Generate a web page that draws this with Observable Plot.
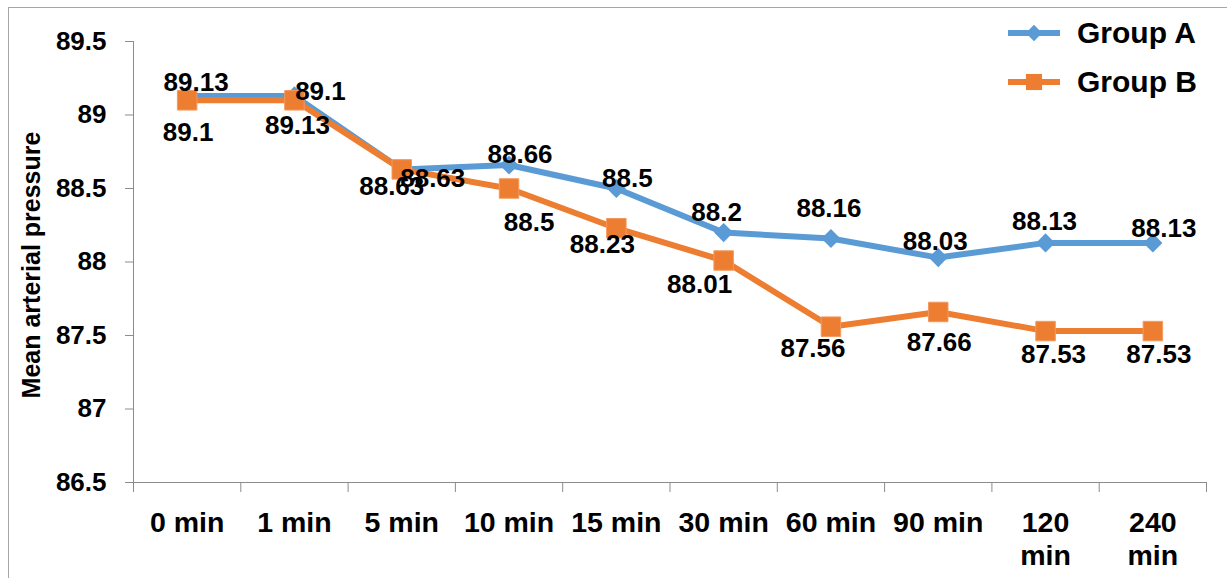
<!DOCTYPE html>
<html>
<head>
<meta charset="utf-8">
<script src="https://cdn.jsdelivr.net/npm/d3@7"></script>
<script src="https://cdn.jsdelivr.net/npm/@observablehq/plot@0.6"></script>
<style>
html, body { margin: 0; padding: 0; background: #fff; overflow: hidden; }
#wrap { position: relative; width: 1227px; height: 578px; font-family: "Liberation Sans", Arial, sans-serif; overflow: hidden; }
#frame { position: absolute; left: 8px; top: 7px; width: 1300px; height: 700px; border: 1px solid #a6a6a6; box-sizing: border-box; }
#chart { position: absolute; left: 0; top: 0; }
#legend { position: absolute; left: 1008px; top: 8px; font-weight: bold; font-size: 30px; color: #000; }
.item { display: flex; align-items: center; height: 49px; }
.item svg { margin-right: 17px; }
</style>
</head>
<body>
<div id="wrap">
  <div id="frame"></div>
  <div id="chart"></div>
  <div id="legend"></div>
</div>
<script>
// ---- data ----
const categories = ["0 min", "1 min", "5 min", "10 min", "15 min", "30 min", "60 min", "90 min", "120 min", "240 min"];
const tickLabels = ["0 min", "1 min", "5 min", "10 min", "15 min", "30 min", "60 min", "90 min", "120\nmin", "240\nmin"];
const groupA = [89.13, 89.13, 88.63, 88.66, 88.5, 88.2, 88.16, 88.03, 88.13, 88.13];
const groupB = [89.1, 89.1, 88.63, 88.5, 88.23, 88.01, 87.56, 87.66, 87.53, 87.53];
const labelsA = ["89.13", "89.1", "88.63", "88.66", "88.5", "88.2", "88.16", "88.03", "88.13", "88.13"];
const labelsB = ["89.1", "89.13", "88.63", "88.5", "88.23", "88.01", "87.56", "87.66", "87.53", "87.53"];
const yTicks = [86.5, 87, 87.5, 88, 88.5, 89, 89.5];
const seriesNames = ["Group A", "Group B"];
const yTitle = "Mean arterial pressure";

// ---- layout / style (label nudges, px) ----
const nudgeA = [[9,-13],[26,-4],[-10,17],[11,-10],[11,-10],[-7,-20],[-2,-30],[-3,-16],[-1,-21],[11,-14]];
const nudgeB = [[1,32],[3,25],[31,9],[20,34],[-14,16],[-24,24],[-18,22],[1,31],[8,24],[6,24]];
const blue = "#5B9BD5", orange = "#ED7D31", gray = "#8c8c8c";
const font = "'Liberation Sans', Arial, sans-serif";

const rows = categories.map((c, i) => ({i, c, a: groupA[i], b: groupB[i]}));
const bounds = d3.range(categories.length + 1).map(k => k - 0.5);

const labelMarks = [];
rows.forEach((r, i) => {
  labelMarks.push(Plot.text([r], {x: "i", y: "a", text: () => labelsA[i], dx: nudgeA[i][0], dy: nudgeA[i][1],
    fontSize: 26, fontWeight: "bold", fill: "#000"}));
  labelMarks.push(Plot.text([r], {x: "i", y: "b", text: () => labelsB[i], dx: nudgeB[i][0], dy: nudgeB[i][1],
    fontSize: 26, fontWeight: "bold", fill: "#000"}));
});

const chart = Plot.plot({
  width: 1227,
  height: 578,
  marginLeft: 133,
  marginRight: 21,
  marginTop: 41,
  marginBottom: 96,
  style: {fontFamily: font, background: "transparent", color: "#000"},
  x: {type: "linear", domain: [bounds[0], bounds[bounds.length - 1]]},
  y: {domain: [d3.min(yTicks), d3.max(yTicks)]},
  marks: [
    Plot.ruleY([d3.min(yTicks)], {stroke: gray, strokeWidth: 1}),
    Plot.ruleX([bounds[0]], {stroke: gray, strokeWidth: 1}),
    Plot.axisX({ticks: bounds, tickSize: 10, tickFormat: () => "", stroke: gray, label: null}),
    Plot.axisX({ticks: rows.map(r => r.i), tickFormat: i => tickLabels[i], tickSize: 0, tickPadding: 26,
      fontSize: 28.5, fontWeight: "bold", fill: "#000", lineHeight: 1.16, label: null}),
    Plot.axisY({ticks: yTicks, tickSize: 8, tickPadding: 19, stroke: gray, fill: "#000",
      fontSize: 26, fontWeight: "bold", label: null, tickFormat: d => String(d)}),
    Plot.text([yTitle], {frameAnchor: "left", textAnchor: "middle", lineAnchor: "middle", rotate: -90, dx: -102, dy: 3,
      fontSize: 25, fontWeight: "bold", fill: "#000"}),
    Plot.line(rows, {x: "i", y: "a", stroke: blue, strokeWidth: 6}),
    Plot.dot(rows, {x: "i", y: "a", symbol: "diamond2", r: 8.6, fill: blue, stroke: "none"}),
    Plot.line(rows, {x: "i", y: "b", stroke: orange, strokeWidth: 6}),
    Plot.dot(rows, {x: "i", y: "b", symbol: "square", r: 11, fill: orange, stroke: "#f29a5e", strokeWidth: 1}),
    ...labelMarks
  ]
});
document.getElementById("chart").appendChild(chart);

// ---- legend ----
const legend = d3.select("#legend");
const legendItems = [
  {name: seriesNames[0], color: blue, symbol: d3.symbolDiamond2, size: 170},
  {name: seriesNames[1], color: orange, symbol: d3.symbolSquare, size: 260}
];
legendItems.forEach(it => {
  const row = legend.append("div").attr("class", "item");
  const svg = row.append("svg").attr("width", 52).attr("height", 24);
  svg.append("line").attr("x1", 0).attr("x2", 52).attr("y1", 12).attr("y2", 12)
    .attr("stroke", it.color).attr("stroke-width", 6);
  svg.append("path").attr("d", d3.symbol(it.symbol, it.size)()).attr("transform", "translate(26,12)")
    .attr("fill", it.color);
  row.append("span").text(it.name);
});
</script>
</body>
</html>
